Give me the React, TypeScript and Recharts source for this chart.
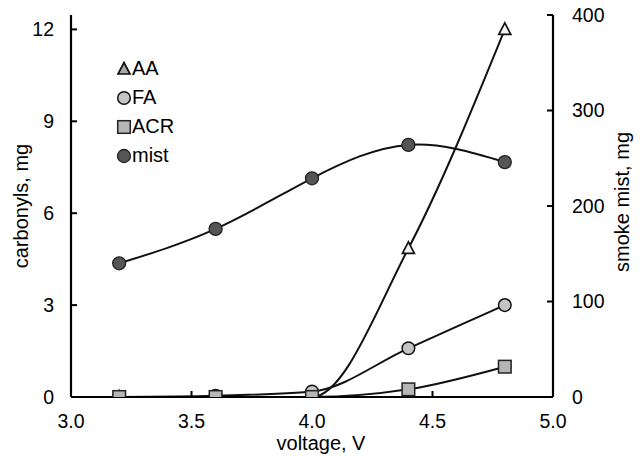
import React from 'react';
import { ComposedChart, Line, XAxis, YAxis, Legend } from 'recharts';

// Carbonyl yields (left axis) and smoke mist (right axis) versus battery voltage
const voltages = [3.2, 3.6, 4.0, 4.4, 4.8];
const aaMg = [0, 0, 0, 4.85, 12];
const faMg = [0, 0.04, 0.18, 1.59, 3.0];
const acrMg = [0, 0, 0, 0.25, 0.99];
const mistMg = [140, 176, 229, 264, 246];

const voltageTicks = [3.0, 3.5, 4.0, 4.5, 5.0];
const carbonylTicks = [0, 3, 6, 9, 12];
const mistTicks = [0, 100, 200, 300, 400];
const seriesNames = ['AA', 'FA', 'ACR', 'mist'];

const rows = voltages.map((v, i) => ({
  v,
  aa: aaMg[i],
  fa: faMg[i],
  acr: acrMg[i],
  mist: mistMg[i],
}));

const FONT = '"Liberation Sans", Arial, Helvetica, sans-serif';
const INK = '#000';

type Kind = 'tri' | 'circle' | 'square' | 'dark';

function Marker({ kind, cx, cy, legend }: { kind: Kind; cx: number; cy: number; legend?: boolean }) {
  if (kind === 'tri') {
    const h = 6;
    return (
      <path
        d={`M${cx},${cy - h - 0.5} L${cx + h},${cy + h - 1} L${cx - h},${cy + h - 1} Z`}
        fill={legend ? '#a8a8a8' : '#f4f4f4'}
        stroke="#111"
        strokeWidth={1.7}
        strokeLinejoin="miter"
      />
    );
  }
  if (kind === 'circle') {
    return <circle cx={cx} cy={cy} r={6.3} fill="#c4c4c4" stroke="#111" strokeWidth={1.5} />;
  }
  if (kind === 'square') {
    return <rect x={cx - 6.3} y={cy - 6.3} width={12.6} height={12.6} fill="#b6b6b6" stroke="#222" strokeWidth={1.5} />;
  }
  return <circle cx={cx} cy={cy} r={6.5} fill="#555" stroke="#222" strokeWidth={1.3} />;
}

const makeDot = (kind: Kind) => (props: any) => {
  const { cx, cy, index } = props;
  if (cx == null || cy == null) return <g key={`${kind}-${index}`} />;
  return (
    <g key={`${kind}-${index}`}>
      <Marker kind={kind} cx={cx} cy={cy} />
    </g>
  );
};

const legendKinds: Kind[] = ['tri', 'circle', 'square', 'dark'];

const renderLegend = () => (
  <div style={{ fontFamily: FONT, fontSize: 20, color: INK, lineHeight: '29px' }}>
    {seriesNames.map((name, i) => (
      <div key={name} style={{ display: 'flex', alignItems: 'center', height: 29 }}>
        <svg width={16} height={16} style={{ display: 'block', flex: 'none' }}>
          <Marker kind={legendKinds[i]} cx={8} cy={8} legend />
        </svg>
        <span style={{ marginLeft: 0, whiteSpace: 'nowrap' }}>{name}</span>
      </div>
    ))}
  </div>
);

const leftTitle = (props: any) => {
  const vb = props.viewBox || {};
  const x = vb.x + 21;
  const y = vb.y + vb.height / 2;
  return (
    <text
      x={x}
      y={y}
      transform={`rotate(-90, ${x}, ${y})`}
      textAnchor="middle"
      dominantBaseline="central"
      fontFamily={FONT}
      fontSize={20}
      fill={INK}
    >
      carbonyls, mg
    </text>
  );
};

const rightTitle = (props: any) => {
  const vb = props.viewBox || {};
  const x = vb.x + 69;
  const y = vb.y + vb.height / 2 - 4;
  return (
    <text
      x={x}
      y={y}
      transform={`rotate(-90, ${x}, ${y})`}
      textAnchor="middle"
      dominantBaseline="central"
      fontFamily={FONT}
      fontSize={20}
      fill={INK}
    >
      smoke mist, mg
    </text>
  );
};

const bottomTitle = (props: any) => {
  const vb = props.viewBox || {};
  const x = vb.x + vb.width / 2 + 9;
  const y = vb.y + vb.height - 7;
  return (
    <text x={x} y={y} textAnchor="middle" fontFamily={FONT} fontSize={20} fill={INK}>
      voltage, V
    </text>
  );
};

const tickStyle = { fontFamily: FONT, fontSize: 19.5, fill: INK };
const axisLine = { stroke: INK, strokeWidth: 2.2 };
const tickLine = { stroke: INK, strokeWidth: 2 };

export default function App() {
  return (
    <div style={{ position: 'absolute', left: 0, top: 0, background: '#fff' }}>
      <ComposedChart
        width={643}
        height={457}
        data={rows}
        margin={{ top: 15, right: 0, bottom: 0, left: 0 }}
      >
        <XAxis
          dataKey="v"
          type="number"
          domain={[3, 5]}
          ticks={voltageTicks}
          tickFormatter={(t: number) => t.toFixed(1)}
          height={60}
          axisLine={axisLine}
          tickLine={tickLine}
          tickSize={-6}
          tickMargin={23}
          tick={tickStyle}
          label={{ content: bottomTitle }}
        />
        <XAxis
          xAxisId="top"
          orientation="top"
          dataKey="v"
          type="number"
          domain={[3, 5]}
          height={0}
          tick={false}
          tickLine={false}
          axisLine={axisLine}
        />
        <YAxis
          yAxisId="c"
          orientation="left"
          type="number"
          domain={[0, 12.47]}
          allowDataOverflow
          ticks={carbonylTicks}
          width={71}
          axisLine={axisLine}
          tickLine={tickLine}
          tickSize={-6}
          tickMargin={23}
          tick={tickStyle}
          label={{ content: leftTitle }}
        />
        <YAxis
          yAxisId="m"
          orientation="right"
          type="number"
          domain={[0, 400]}
          ticks={mistTicks}
          width={90}
          axisLine={axisLine}
          tickLine={tickLine}
          tickSize={-6}
          tickMargin={25}
          tick={{ ...tickStyle, textAnchor: 'start' }}
          label={{ content: rightTitle }}
        />
        <Legend
          layout="vertical"
          verticalAlign="middle"
          align="center"
          wrapperStyle={{ position: 'absolute', left: 116, top: 54, width: 90, height: 120 }}
          content={renderLegend}
        />
        <Line
          yAxisId="m"
          dataKey="mist"
          name="mist"
          type="natural"
          stroke="#111"
          strokeWidth={2}
          dot={makeDot('dark')}
          activeDot={false}
          isAnimationActive={false}
          legendType="none"
        />
        <Line
          yAxisId="c"
          dataKey="aa"
          name="AA"
          type="monotone"
          stroke="#111"
          strokeWidth={2}
          dot={makeDot('tri')}
          activeDot={false}
          isAnimationActive={false}
        />
        <Line
          yAxisId="c"
          dataKey="fa"
          name="FA"
          type="monotone"
          stroke="#111"
          strokeWidth={2}
          dot={makeDot('circle')}
          activeDot={false}
          isAnimationActive={false}
        />
        <Line
          yAxisId="c"
          dataKey="acr"
          name="ACR"
          type="monotone"
          stroke="#111"
          strokeWidth={2}
          dot={makeDot('square')}
          activeDot={false}
          isAnimationActive={false}
        />
      </ComposedChart>
    </div>
  );
}
